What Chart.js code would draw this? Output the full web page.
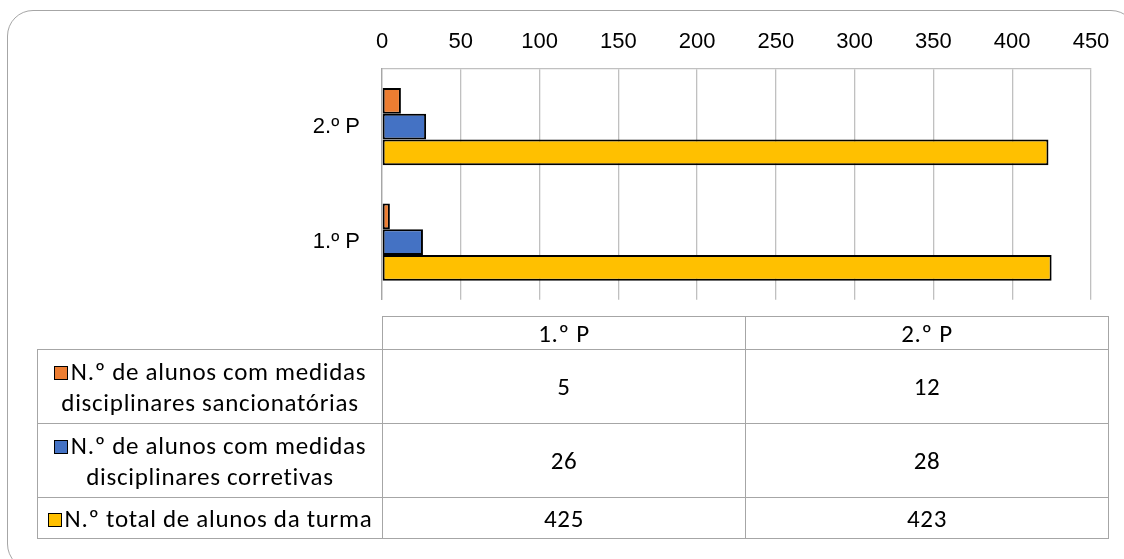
<!DOCTYPE html>
<html lang="pt">
<head>
<meta charset="utf-8">
<script src="https://cdn.jsdelivr.net/npm/chart.js"></script>
<style>
  html, body { margin: 0; padding: 0; background: #fff; }
  body { width: 1124px; height: 559px; overflow: hidden; position: relative; }
  .frame {
    position: absolute; left: 7px; top: 10px; width: 1130px; height: 560px;
    border: 1.5px solid #a6a6a6; border-radius: 26px; box-sizing: border-box;
  }
  #chartCanvas { position: absolute; left: 0; top: 0; }
  table.dt {
    position: absolute; left: 37px; top: 316px;
    border-collapse: collapse; table-layout: fixed;
    font-family: Carlito, Lato, "Open Sans", sans-serif; font-size: 25px; letter-spacing: 0.7px; color: #000;
  }
  table.dt td { border: 1.3px solid #a6a6a6; text-align: center; padding: 0; }
  table.dt td.blank { border-top: none; border-left: none; }
  table.dt td.lbl { line-height: 31px; }
  .key {
    display: inline-block; width: 12px; height: 12px; border: 1.5px solid #000;
    margin-right: 3px; vertical-align: 0px;
  }
</style>
</head>
<body>
<div class="frame"></div>
<canvas id="chartCanvas" width="1124" height="335"></canvas>
<table class="dt" id="dataTable"></table>

<script>
  // dados
  const categories = ['1.º P', '2.º P'];
  const seriesNames = [
    'N.º de alunos com medidas disciplinares sancionatórias',
    'N.º de alunos com medidas disciplinares corretivas',
    'N.º total de alunos da turma'
  ];
  const sancionatorias = [5, 12];
  const corretivas = [26, 28];
  const totalTurma = [425, 423];
  const xTicks = [0, 50, 100, 150, 200, 250, 300, 350, 400, 450];

  const seriesColors = ['#ED7D31', '#4472C4', '#FFC000'];
  // quebras de linha como no original
  const tableLabels = [
    ['N.º de alunos com medidas', 'disciplinares sancionatórias'],
    ['N.º de alunos com medidas', 'disciplinares corretivas'],
    ['N.º total de alunos da turma']
  ];

  const axisFont = { family: '"Liberation Sans Narrow", "Liberation Sans", Arial, sans-serif', size: 22 };
  const gridColor = '#c0c0c0';

  const allSeries = [sancionatorias, corretivas, totalTurma];

  const ctx = document.getElementById('chartCanvas').getContext('2d');
  const chart = new Chart(ctx, {
    type: 'bar',
    data: {
      labels: categories,
      datasets: allSeries.map((vals, i) => ({
        label: seriesNames[i],
        data: vals,
        backgroundColor: seriesColors[i],
        borderColor: '#000',
        borderWidth: 2,
        borderSkipped: false,
        categoryPercentage: 0.67,
        barPercentage: 1
      }))
    },
    options: {
      indexAxis: 'y',
      responsive: false,
      animation: false,
      devicePixelRatio: 1,
      layout: { padding: { left: 0, right: 33, top: 0, bottom: 2 } },
      plugins: {
        legend: { display: false },
        tooltip: { enabled: false }
      },
      scales: {
        x: {
          position: 'top',
          min: 0,
          max: 450,
          afterBuildTicks: (scale) => { scale.ticks = xTicks.map(v => ({ value: v })); },
          afterFit: (scale) => { scale.height = 69; },
          grid: { color: gridColor, lineWidth: 1.3, drawTicks: false },
          border: { color: gridColor, width: 1.3 },
          ticks: { color: '#000', font: axisFont, padding: 14, maxRotation: 0 }
        },
        y: {
          reverse: true,
          afterFit: (scale) => { scale.width = 382; },
          grid: { display: false, drawTicks: false },
          border: { color: '#a6a6a6', width: 1.3 },
          ticks: { color: '#000', font: axisFont, padding: 22 }
        }
      }
    }
  });

  // tabela de dados por baixo do gráfico
  const table = document.getElementById('dataTable');
  let html = '<colgroup><col style="width:345px"><col style="width:363px"><col style="width:363px"></colgroup>';
  html += '<tr style="height:33px"><td class="blank"></td>' +
    categories.map(c => '<td>' + c + '</td>').join('') + '</tr>';
  const rowHeights = [74, 74, 41];
  allSeries.forEach((vals, i) => {
    html += '<tr style="height:' + rowHeights[i] + 'px"><td class="lbl">' +
      '<span class="key" style="background:' + seriesColors[i] + '"></span>' +
      tableLabels[i].join('<br>') + '</td>' +
      vals.map(v => '<td>' + v + '</td>').join('') + '</tr>';
  });
  table.innerHTML = html;
</script>
</body>
</html>
